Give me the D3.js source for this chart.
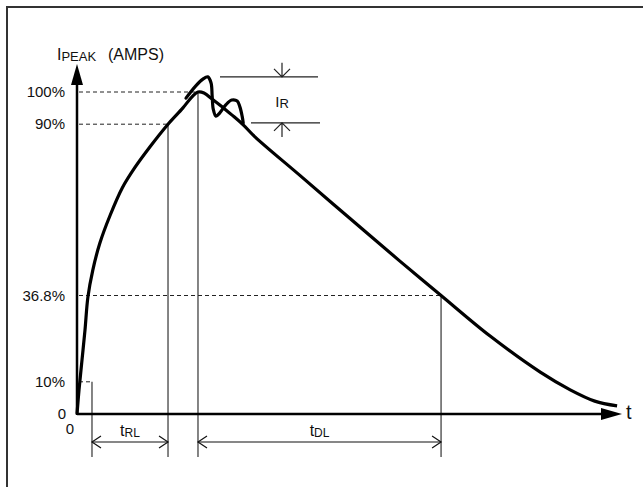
<!DOCTYPE html>
<html><head><meta charset="utf-8">
<script src="https://cdn.jsdelivr.net/npm/d3@7"></script>
<style>html,body{margin:0;padding:0;background:#fff;}svg{display:block;}</style>
</head><body>
<script>
// ---- data ----
const mainT = [0,0.37,0.92,1.47,2.0,2.9,4.2,6.1,8.3,10.6,13.4,16.7,19.4,21.1,22.2,23.3,24.8,26.2,28.4,30.5,32.7,40.9,50.1,59.3,66.8,75.8,85.0,90.5,95.0,99.1];
const mainV = [0,7.5,16.8,26.1,36.3,44.7,53.1,61.8,70.2,76.5,83,90,95,98.5,100,99.7,97.8,96,92.9,89.8,86.0,74.1,60.7,47.4,36.8,24.2,13.0,7.5,4.0,2.5];
const ringT = [20,21.8,23.1,24.0,24.6,24.8,25.0,25.5,26.2,27.3,28.4,29.4,29.9,30.3,30.5];
const ringV = [98.1,101.9,104,104.7,102.8,98.8,94.7,92.5,93.5,96,97.5,97.2,95.3,92.5,90.4];
const levelLabels = ["100%","90%","36.8%","10%","0"];
const levelValues = [100,90,36.8,10,0];
const levelTimes = [22.2,16.7,66.8,2.75,null]; // where dashed guide ends
const markTimes = [2.75,16.7,22.2,66.8];
const spans = [{from:2.75,to:16.7,main:"t",sub:"RL"},{from:22.2,to:66.8,main:"t",sub:"DL"}];
const ringLevels = [104.7,90.4];

const W=643,H=487;
const svg=d3.select("body").append("svg").attr("width",W).attr("height",H);
const x=d3.scaleLinear().domain([0,100]).range([77,622]);
const y=d3.scaleLinear().domain([0,100]).range([414,92]);
const font="'Liberation Sans', Arial, sans-serif";

// border
svg.append("path").attr("d",`M7,${H} V7 H${W}`).attr("fill","none").attr("stroke","#333").attr("stroke-width",2);

// dashed guides
levelValues.forEach((v,i)=>{
  if(levelTimes[i]==null) return;
  svg.append("line").attr("x1",x(0)+2).attr("x2",x(levelTimes[i])).attr("y1",y(v)).attr("y2",y(v))
    .attr("stroke","#222").attr("stroke-width",1).attr("stroke-dasharray","4,3");
});
// level labels
levelValues.forEach((v,i)=>{
  svg.append("text").attr("x",v===0?66:65).attr("y",y(v)+5).attr("text-anchor","end")
    .attr("font-family",font).attr("font-size",15).attr("fill","#111").text(levelLabels[i]);
});
svg.append("text").attr("x",70).attr("y",434).attr("text-anchor","middle").attr("font-family",font).attr("font-size",15).attr("fill","#111").text("0");

// vertical marker lines
markTimes.forEach((t,i)=>{
  const v=[10,90,100,36.8][i];
  svg.append("line").attr("x1",x(t)).attr("x2",x(t)).attr("y1",y(v)).attr("y2",457)
    .attr("stroke","#333").attr("stroke-width",1.2);
});

// span arrows
const ay=442;
spans.forEach(s=>{
  const x1=x(s.from),x2=x(s.to);
  svg.append("line").attr("x1",x1).attr("x2",x2).attr("y1",ay).attr("y2",ay).attr("stroke","#111").attr("stroke-width",1.2);
  svg.append("path").attr("d",`M${x1+9},${ay-6} L${x1},${ay} L${x1+9},${ay+6} M${x2-9},${ay-6} L${x2},${ay} L${x2-9},${ay+6}`)
    .attr("fill","none").attr("stroke","#111").attr("stroke-width",1.2);
  const tx=svg.append("text").attr("x",(x1+x2)/2).attr("y",436).attr("text-anchor","middle").attr("font-family",font).attr("fill","#111");
  tx.append("tspan").attr("font-size",16).text(s.main);
  tx.append("tspan").attr("font-size",12).attr("dy",1).text(s.sub);
});

// axes
svg.append("line").attr("x1",x(0)).attr("x2",604).attr("y1",y(0)).attr("y2",y(0)).attr("stroke","#000").attr("stroke-width",2.5);
svg.append("path").attr("d",`M622,${y(0)} L601,${y(0)-6} L601,${y(0)+6} Z`).attr("fill","#000");
svg.append("line").attr("x1",x(0)).attr("x2",x(0)).attr("y1",y(0)+1).attr("y2",82).attr("stroke","#000").attr("stroke-width",2.5);
svg.append("path").attr("d",`M${x(0)},64 L${x(0)-6},85 L${x(0)+6},85 Z`).attr("fill","#000");
svg.append("text").attr("x",626).attr("y",419).attr("font-family",font).attr("font-size",20).attr("fill","#111").text("t");

// y title
const yt=svg.append("text").attr("x",57).attr("y",60).attr("font-family",font).attr("fill","#111");
yt.append("tspan").attr("font-size",16).text("I");
yt.append("tspan").attr("font-size",13).attr("dy",1).text("PEAK");
svg.append("text").attr("x",108).attr("y",60).attr("font-family",font).attr("font-size",16).attr("fill","#111").text("(AMPS)");

// curves
const line=d3.line().x(d=>x(d[0])).y(d=>y(d[1])).curve(d3.curveCatmullRom.alpha(0.5));
svg.append("path").datum(mainT.map((t,i)=>[t,mainV[i]])).attr("d",line).attr("fill","none").attr("stroke","#000").attr("stroke-width",3.2).attr("stroke-linejoin","round");
svg.append("path").datum(ringT.map((t,i)=>[t,ringV[i]])).attr("d",line).attr("fill","none").attr("stroke","#000").attr("stroke-width",3.2).attr("stroke-linejoin","round").attr("stroke-linecap","round");

// I_R annotation
const rx=282;
svg.append("line").attr("x1",220).attr("x2",318).attr("y1",y(ringLevels[0])).attr("y2",y(ringLevels[0])).attr("stroke","#222").attr("stroke-width",1.2);
svg.append("line").attr("x1",251).attr("x2",320).attr("y1",y(ringLevels[1])).attr("y2",y(ringLevels[1])).attr("stroke","#222").attr("stroke-width",1.2);
const t0=y(ringLevels[0]),t1=y(ringLevels[1]);
svg.append("path").attr("d",`M${rx},${t0-14} L${rx},${t0} M${rx-8},${t0-8} L${rx},${t0} L${rx+8},${t0-8}`).attr("fill","none").attr("stroke","#222").attr("stroke-width",1.2);
svg.append("path").attr("d",`M${rx},${t1+14} L${rx},${t1} M${rx-8},${t1+8} L${rx},${t1} L${rx+8},${t1+8}`).attr("fill","none").attr("stroke","#222").attr("stroke-width",1.2);
const ir=svg.append("text").attr("x",rx).attr("y",107).attr("text-anchor","middle").attr("font-family",font).attr("fill","#111");
ir.append("tspan").attr("font-size",15).text("I");
ir.append("tspan").attr("font-size",13).attr("dy",1).text("R");
</script>
</body></html>
